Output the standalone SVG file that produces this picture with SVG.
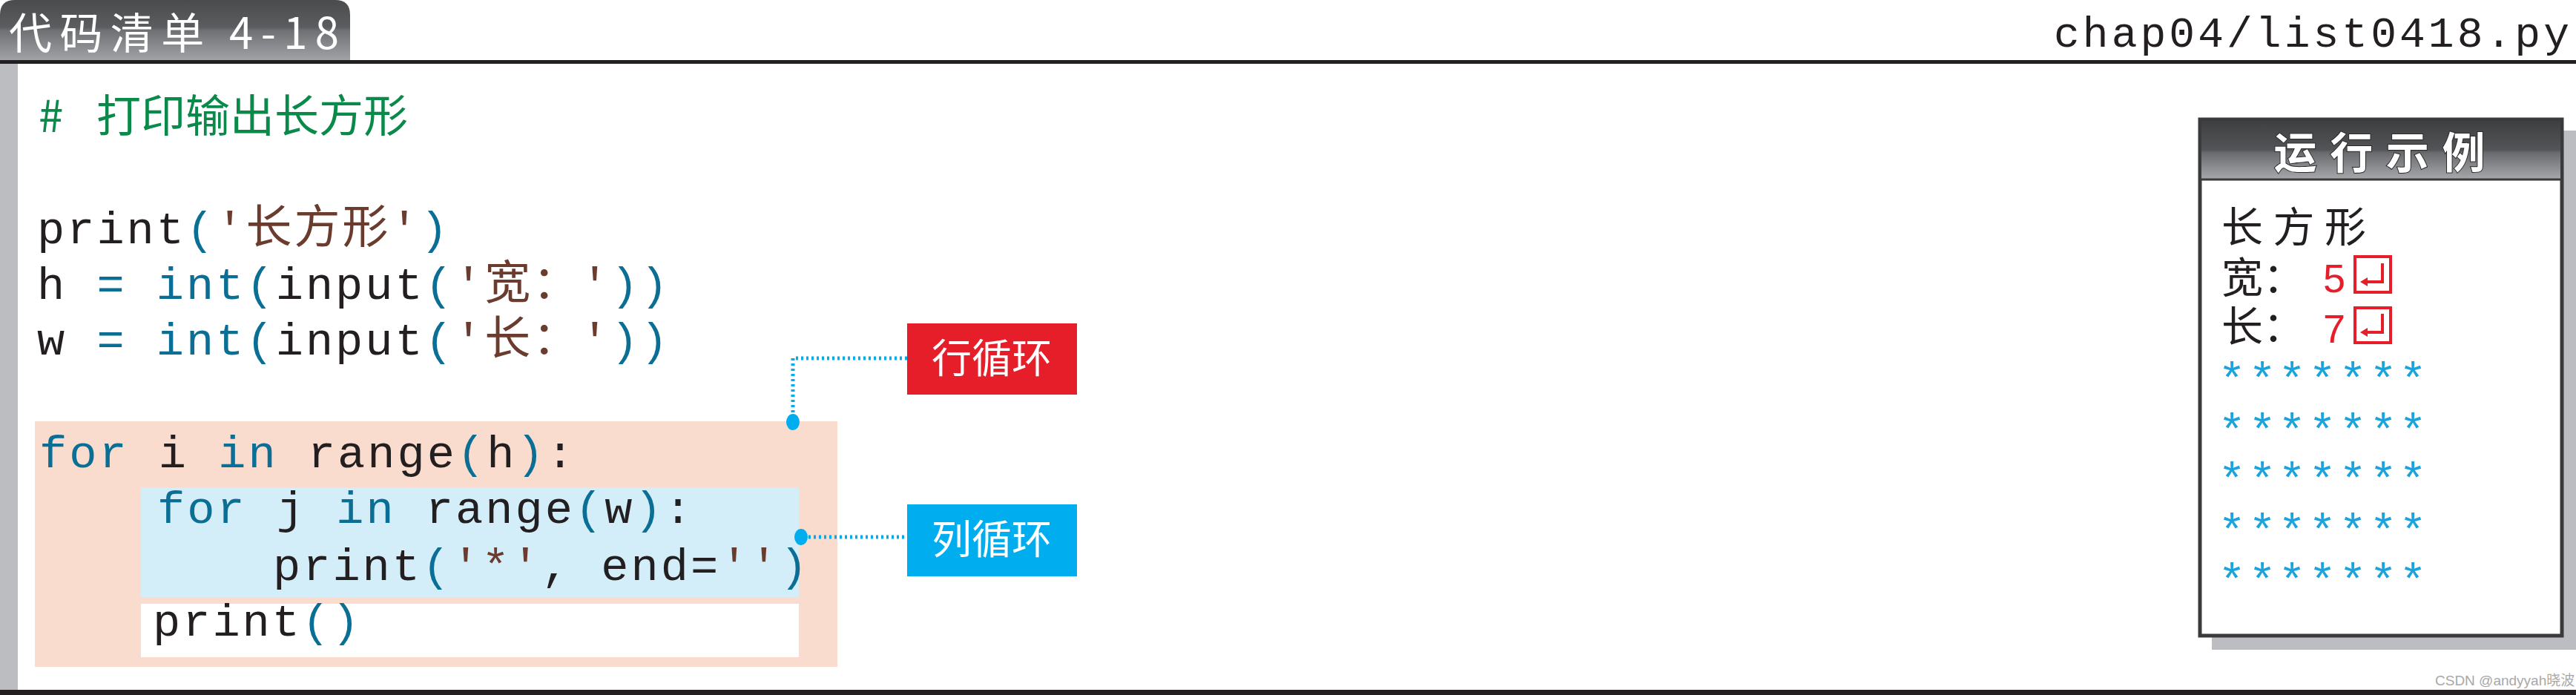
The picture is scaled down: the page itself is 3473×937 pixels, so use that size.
<svg xmlns="http://www.w3.org/2000/svg" width="3473" height="937" viewBox="0 0 3473 937">
<defs>
<linearGradient id="hg" x1="0" y1="0" x2="0" y2="1"><stop offset="0" stop-color="#4a4b4d"/><stop offset="0.45" stop-color="#5c5d60"/><stop offset="0.5" stop-color="#6f7073"/><stop offset="1" stop-color="#a3a4a7"/></linearGradient>
<linearGradient id="rg" x1="0" y1="0" x2="0" y2="1"><stop offset="0" stop-color="#3f4042"/><stop offset="0.5" stop-color="#535457"/><stop offset="0.55" stop-color="#6a6b6e"/><stop offset="1" stop-color="#a6a7aa"/></linearGradient>
</defs>
<style>
.code{font-family:"Liberation Mono","Noto Sans CJK SC",monospace;font-size:62px;letter-spacing:3px;fill:#231f20}
.k{fill:#0b6e94}.s{fill:#6b3b2e}
.cjk{font-family:"Noto Sans CJK SC",sans-serif}
.lbl{font-family:"Noto Sans CJK SC",sans-serif;font-size:54px;fill:#fff;text-anchor:middle}
.dot{stroke:#00aeef;stroke-width:5;stroke-dasharray:3 4;fill:none}
.out{font-family:"Noto Sans CJK SC",sans-serif;font-size:56px;fill:#231f20}
.star{font-family:"Liberation Sans",sans-serif;font-size:62px;fill:#1aa3dc}
</style>
<rect width="3473" height="937" fill="#fff"/>
<g id="header">
<path d="M0 82 V20 Q0 0 20 0 H452 Q472 0 472 20 V82 Z" fill="url(#hg)"/>
<text x="12" y="66" font-family="Noto Sans CJK SC,sans-serif" font-size="58" fill="#fff" textLength="445">代码清单 4-18</text>
<text x="3464" y="63" text-anchor="end" font-family="Liberation Mono,monospace" font-size="58" fill="#231f20" textLength="695">chap04/list0418.py</text>
<rect x="0" y="81" width="3473" height="5" fill="#231f20"/>
<rect x="0" y="86" width="24" height="845" fill="#bcbdc0"/>
<rect x="0" y="930" width="3473" height="7" fill="#231f20"/>
</g>
<g id="code">
<text x="52" y="178" font-family="Noto Sans CJK SC,sans-serif" font-size="60" fill="#0a8a4a" xml:space="preserve"># <tspan x="130">打印输出长方形</tspan></text>
<text class="code" x="50" y="328" xml:space="preserve">print<tspan class="k">(</tspan><tspan class="s">'<tspan class="cjk">长方形</tspan>'</tspan><tspan class="k">)</tspan></text>
<text class="code" x="50" y="403" xml:space="preserve">h <tspan class="k">= int(</tspan>input<tspan class="k">(</tspan><tspan class="s">'<tspan class="cjk">宽：</tspan>'</tspan><tspan class="k">))</tspan></text>
<text class="code" x="50" y="478" xml:space="preserve">w <tspan class="k">= int(</tspan>input<tspan class="k">(</tspan><tspan class="s">'<tspan class="cjk">长：</tspan>'</tspan><tspan class="k">))</tspan></text>
</g>
<g id="outer-loop">
<rect x="47" y="568" width="1082" height="331" fill="#fadccf"/>
<text class="code" x="53" y="630" xml:space="preserve"><tspan class="k">for</tspan> i <tspan class="k">in</tspan> range<tspan class="k">(</tspan>h<tspan class="k">)</tspan>:</text>
</g>
<g id="inner-loop">
<rect x="190" y="657" width="887" height="148" fill="#d3edf9"/>
<text class="code" x="212" y="705" xml:space="preserve"><tspan class="k">for</tspan> j <tspan class="k">in</tspan> range<tspan class="k">(</tspan>w<tspan class="k">)</tspan>:</text>
<text class="code" x="368" y="782" xml:space="preserve">print<tspan class="k">(</tspan><tspan class="s">'*'</tspan>, end=<tspan class="s">''</tspan><tspan class="k">)</tspan></text>
</g>
<g id="print-line">
<rect x="190" y="814" width="887" height="72" fill="#fff"/>
<text class="code" x="206" y="857" xml:space="preserve">print<tspan class="k">()</tspan></text>
</g>
<g id="connectors">
<path class="dot" d="M1223 483 H1069 V566"/>
<ellipse cx="1069" cy="569" rx="9" ry="11" fill="#00aeef"/>
<path class="dot" d="M1083 724 H1223"/>
<ellipse cx="1080" cy="724" rx="9" ry="11" fill="#00aeef"/>
</g>
<g id="label-row"><rect x="1223" y="436" width="229" height="96" fill="#e61e2a"/><text class="lbl" x="1337" y="503">行循环</text></g>
<g id="label-col"><rect x="1223" y="680" width="229" height="97" fill="#00aeef"/><text class="lbl" x="1337" y="747">列循环</text></g>
<g id="run-example">
<rect x="2982" y="176" width="491" height="700" fill="#bcbdc0"/>
<rect x="2966" y="161" width="488" height="696" fill="#fff" stroke="#3a3a3c" stroke-width="5"/>
<rect x="2968" y="163" width="484" height="78" fill="url(#rg)"/>
<line x1="2966" y1="242" x2="3454" y2="242" stroke="#3a3a3c" stroke-width="3"/>
<text x="3208" y="227" text-anchor="middle" font-family="Noto Sans CJK SC,sans-serif" font-weight="bold" font-size="58" fill="#fff" stroke="#2a2a2a" stroke-width="2" paint-order="stroke" textLength="285">运行示例</text>
<text class="out" x="2995" y="326" textLength="195">长方形</text>
<text class="out" x="2995" y="394">宽：</text>
<text class="out" x="2995" y="460">长：</text>
<text x="3132" y="394" font-family="Liberation Sans,sans-serif" font-size="54" fill="#e61e2a">5</text>
<text x="3132" y="462" font-family="Liberation Sans,sans-serif" font-size="54" fill="#e61e2a">7</text>
<g fill="none" stroke="#e61e2a" stroke-width="4">
<rect x="3175" y="346" width="48" height="48"/><path d="M3212 355 V380 H3186"/>
<rect x="3175" y="415" width="48" height="47"/><path d="M3212 423 V448 H3186"/>
</g>
<g fill="#e61e2a"><path d="M3182 380 l10 -6 v12 z"/><path d="M3182 448 l10 -6 v12 z"/></g>
<text class="star" y="529"><tspan x="2997 3038 3078 3119 3160 3201 3241">*******</tspan></text>
<text class="star" y="598"><tspan x="2997 3038 3078 3119 3160 3201 3241">*******</tspan></text>
<text class="star" y="664"><tspan x="2997 3038 3078 3119 3160 3201 3241">*******</tspan></text>
<text class="star" y="733"><tspan x="2997 3038 3078 3119 3160 3201 3241">*******</tspan></text>
<text class="star" y="800"><tspan x="2997 3038 3078 3119 3160 3201 3241">*******</tspan></text>
</g>
<text x="3283" y="924" font-family="Liberation Sans,Noto Sans CJK SC,sans-serif" font-size="19" fill="#a8a8a8">CSDN @andyyah晓波</text>
</svg>
